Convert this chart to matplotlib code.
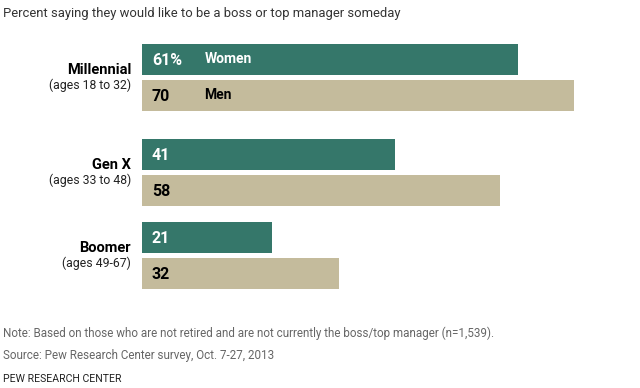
import matplotlib.pyplot as plt
import numpy as np

plt.rcParams['font.family'] = ['Roboto', 'DejaVu Sans']

generations = ['Millennial', 'Gen X', 'Boomer']
age_ranges = ['(ages 18 to 32)', '(ages 33 to 48)', '(ages 49-67)']
women = [61, 41, 21]
men = [70, 58, 32]

green = '#35776a'
tan = '#c4bb9c'

W, H = 640, 388
fig = plt.figure(figsize=(W / 100, H / 100), dpi=100)

# axes in pixel units vertically, data units horizontally; bars start at x=142px
px_per_unit = 6.17
ax = fig.add_axes([142 / W, 0, 1 - 142 / W, 1])
ax.set_xlim(0, (W - 142) / px_per_unit)
ax.set_ylim(H, 0)
ax.axis('off')

group_tops = [44, 139, 222]
bar_h = 30.5
pair_gap = 36

for i, top in enumerate(group_tops):
    yw = top + bar_h / 2
    ym = top + pair_gap + bar_h / 2
    ax.barh(yw, women[i], height=bar_h, color=green, edgecolor='none')
    ax.barh(ym, men[i], height=bar_h, color=tan, edgecolor='none')
    wlab = f'{women[i]}%' if i == 0 else str(women[i])
    ax.text(1.6, yw + 1, wlab, color='white', fontsize=11.5, fontweight='bold', va='center', ha='left')
    ax.text(1.6, ym + 1, str(men[i]), color='black', fontsize=11.5, fontweight='bold', va='center', ha='left')
    if i == 0:
        ax.text(10.1, yw, 'Women', color='white', fontsize=10, fontweight='bold', va='center', ha='left')
        ax.text(10.1, ym, 'Men', color='black', fontsize=10, fontweight='bold', va='center', ha='left')
    # group labels on the left, in figure coordinates
    fig.text(131 / W, 1 - (top + 26) / H, generations[i], fontsize=10.5, fontweight='bold',
             ha='right', va='center', color='black')
    fig.text(131 / W, 1 - (top + 41) / H, age_ranges[i], fontsize=8.8,
             ha='right', va='center', color='#222222')

fig.text(3 / W, 1 - 13 / H, 'Percent saying they would like to be a boss or top manager someday',
         fontsize=9.4, ha='left', va='center', color='#333333')
fig.text(3 / W, 1 - 333 / H,
         'Note: Based on those who are not retired and are not currently the boss/top manager (n=1,539).',
         fontsize=8.4, ha='left', va='center', color='#666666')
fig.text(3 / W, 1 - 356 / H, 'Source: Pew Research Center survey, Oct. 7-27, 2013',
         fontsize=8.4, ha='left', va='center', color='#666666')
fig.text(3 / W, 1 - 379 / H, 'PEW RESEARCH CENTER', fontsize=7.6, ha='left', va='center', color='#222222')

fig.savefig('out.png', dpi=100)
